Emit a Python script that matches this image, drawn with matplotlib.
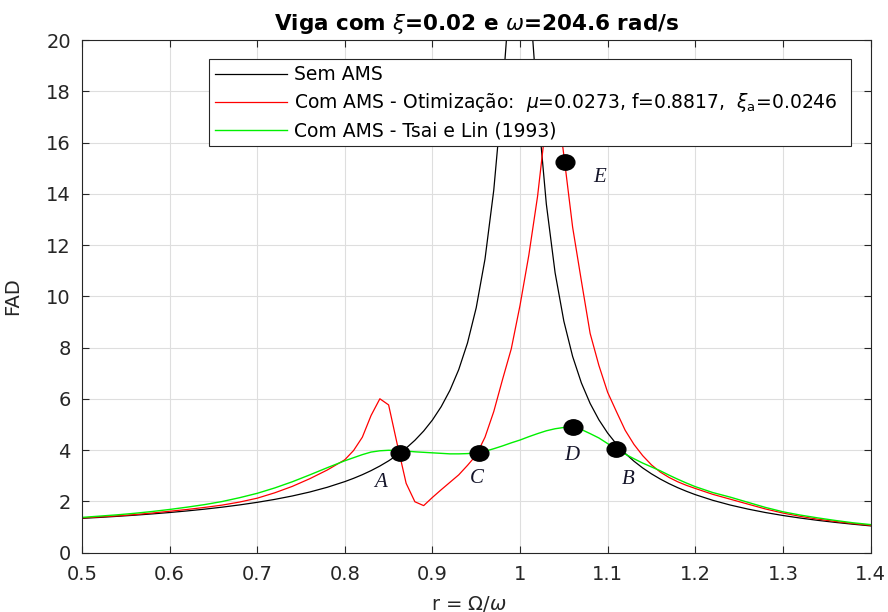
import matplotlib
matplotlib.use('Agg')
import matplotlib.pyplot as plt
from matplotlib.path import Path
from matplotlib.transforms import Affine2D
from matplotlib.ticker import FormatStrFormatter, MultipleLocator

plt.rcParams['font.family'] = ['DejaVu Sans']
plt.rcParams['mathtext.fontset'] = 'dejavusans'

# razao de frequencias
r = [0.50, 0.52, 0.54, 0.56, 0.58, 0.60, 0.62, 0.64, 0.66, 0.68, 0.70, 0.72, 0.74, 0.76, 0.78, 0.80,
     0.81, 0.82, 0.83, 0.84, 0.85, 0.86, 0.87, 0.88, 0.89, 0.90,
     0.91, 0.92, 0.93, 0.94, 0.95, 0.96, 0.97, 0.98, 0.99, 1.00,
     1.01, 1.02, 1.03, 1.04, 1.05, 1.06, 1.07, 1.08, 1.09, 1.10,
     1.11, 1.12, 1.13, 1.14, 1.15, 1.16, 1.17, 1.18, 1.19, 1.20,
     1.22, 1.24, 1.26, 1.28, 1.30, 1.32, 1.34, 1.36, 1.38, 1.40]

# Sem AMS
fad_sem = [1.333, 1.370, 1.411, 1.456, 1.506, 1.561, 1.623, 1.692, 1.770, 1.858, 1.958, 2.073, 2.206, 2.361, 2.546, 2.767,
           2.895, 3.037, 3.196, 3.375, 3.577, 3.807, 4.072, 4.380, 4.741, 5.171,
           5.691, 6.331, 7.136, 8.175, 9.556, 11.45, 14.14, 17.95, 22.56, 25.0,
           22.16, 17.42, 13.60, 10.92, 9.028, 7.653, 6.619, 5.817, 5.179, 4.661,
           4.232, 3.871, 3.564, 3.300, 3.070, 2.868, 2.689, 2.530, 2.388, 2.259,
           2.037, 1.852, 1.696, 1.561, 1.445, 1.344, 1.254, 1.175, 1.104, 1.040]

# Com AMS - Otimizacao
fad_otim = [1.35, 1.39, 1.43, 1.48, 1.54, 1.61, 1.68, 1.76, 1.85, 1.97, 2.12, 2.33, 2.58, 2.88, 3.22, 3.62,
            3.98, 4.50, 5.35, 6.00, 5.76, 4.20, 2.70, 1.98, 1.83, 2.15,
            2.45, 2.74, 3.03, 3.40, 3.80, 4.50, 5.50, 6.75, 7.95, 9.65,
            11.6, 13.9, 16.9, 18.2, 15.5, 12.7, 10.6, 8.55, 7.30, 6.25,
            5.50, 4.77, 4.22, 3.78, 3.42, 3.14, 2.93, 2.76, 2.62, 2.50,
            2.27, 2.08, 1.89, 1.70, 1.54, 1.41, 1.30, 1.21, 1.13, 1.06]

# Com AMS - Tsai e Lin (1993)
fad_tsai = [1.37, 1.42, 1.47, 1.53, 1.60, 1.68, 1.77, 1.87, 1.99, 2.14, 2.31, 2.52, 2.76, 3.03, 3.31, 3.58,
            3.70, 3.82, 3.92, 3.97, 3.99, 3.98, 3.96, 3.93, 3.91, 3.89,
            3.87, 3.85, 3.85, 3.86, 3.89, 3.95, 4.05, 4.16, 4.28, 4.39,
            4.52, 4.64, 4.75, 4.83, 4.88, 4.89, 4.80, 4.64, 4.47, 4.25,
            4.04, 3.84, 3.66, 3.49, 3.34, 3.19, 3.02, 2.86, 2.71, 2.57,
            2.34, 2.16, 1.96, 1.76, 1.59, 1.46, 1.35, 1.25, 1.16, 1.09]

# pontos marcados
pt_nomes = ['A', 'B', 'C', 'D', 'E']
pt_r = [0.863, 1.110, 0.953, 1.061, 1.051]
pt_fad = [3.90, 4.03, 3.90, 4.89, 15.25]
lbl_r = [0.841, 1.124, 0.951, 1.059, 1.091]
lbl_fad = [2.75, 2.85, 2.90, 3.80, 14.65]

fig = plt.figure(figsize=(8.88, 6.12), dpi=100)
ax = fig.add_axes([0.0923, 0.0972, 0.888, 0.8374])

ax.plot(r, fad_sem, color='#000000', lw=0.9, label='Sem AMS')
ax.plot(r, fad_otim, color='#ff0000', lw=0.9,
        label=r'Com AMS - Otimização:  $\mu$=0.0273, f=0.8817,  $\xi_{\rm a}$=0.0246')
ax.plot(r, fad_tsai, color='#00f000', lw=1.0, label='Com AMS - Tsai e Lin (1993)')

# marcador eliptico (a imagem original esta esticada na horizontal)
elipse = Path.unit_circle().transformed(Affine2D().scale(1.0, 0.82))
ax.plot(pt_r, pt_fad, linestyle='none', marker=elipse, markersize=13.5, color='black', zorder=5)
for nome, x, y in zip(pt_nomes, lbl_r, lbl_fad):
    ax.text(x, y, nome, ha='center', va='center', fontsize=15, style='italic',
            family=['Liberation Serif', 'DejaVu Serif'], color='#15152a', zorder=6)

ax.set_xlim(0.5, 1.4)
ax.set_ylim(0, 20)
ax.xaxis.set_major_locator(MultipleLocator(0.1))
ax.yaxis.set_major_locator(MultipleLocator(2))
ax.xaxis.set_major_formatter(FormatStrFormatter('%g'))
ax.grid(True, color='#dedede', lw=0.8)
ax.set_axisbelow(True)
ax.tick_params(direction='in', top=True, right=True, labelsize=14, colors='#262626', length=5)
ax.tick_params(axis='x', pad=9)
ax.tick_params(axis='y', pad=8)
for s in ax.spines.values():
    s.set_color('#262626')
    s.set_linewidth(0.8)

ax.set_title(r'Viga com $\xi$=0.02 e $\omega$=204.6 rad/s', fontsize=15.5, fontweight='bold', pad=7)
ax.set_ylabel('FAD', fontsize=14, color='#262626')
ax.yaxis.set_label_coords(-0.076, 0.5)
ax.set_xlabel(r'r = $\Omega/\omega$', fontsize=14, color='#262626')
ax.xaxis.set_label_coords(0.49, -0.08)

leg = ax.legend(loc='upper left', bbox_to_anchor=(0.161, 0.962, 0.814, 0.0), mode='expand',
                fontsize=13.5, frameon=True, fancybox=False, framealpha=1, edgecolor='#262626',
                handlelength=3.85, handletextpad=0.4, borderpad=0.3, labelspacing=0.38, borderaxespad=0)
leg.get_frame().set_linewidth(0.8)
leg.set_zorder(10)

fig.savefig('out.png', dpi=100)
